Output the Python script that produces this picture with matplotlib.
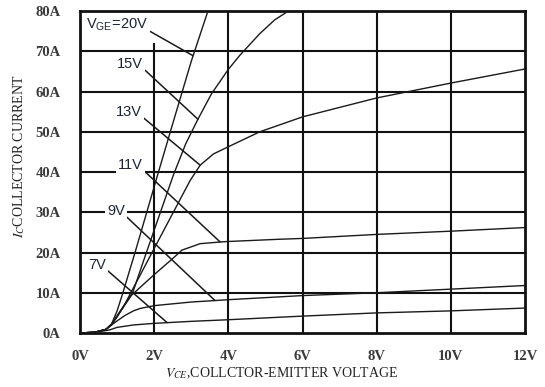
import numpy as np
import matplotlib
matplotlib.use("Agg")
import matplotlib.pyplot as plt

plt.rcParams['mathtext.fontset'] = 'stix'

# Output characteristics, I_C (A) versus V_CE (V), one list pair per gate voltage
v_20 = [0, 0.4, 0.7, 0.85, 1.0, 1.15, 1.5, 2.1, 2.5, 3.0, 3.45]
i_20 = [0, 0.2, 0.9, 2.2, 5.5, 9.8, 20.5, 39.5, 52.0, 67.5, 80.0]

v_15 = [0, 0.4, 0.7, 0.85, 1.05, 1.42, 1.79, 2.52, 2.85, 3.19, 3.55, 4.0, 4.31, 4.85, 5.25, 5.62]
i_15 = [0, 0.2, 0.9, 2.2, 5.0, 10.0, 20.0, 39.3, 47.0, 53.3, 59.5, 65.5, 69.0, 74.4, 77.8, 80.0]

v_13 = [0, 0.4, 0.7, 0.85, 1.0, 1.17, 2.0, 2.97, 3.24, 3.6, 4.05, 4.85, 6.0, 8.0, 10.0, 12.0]
i_13 = [0, 0.2, 0.9, 2.2, 4.0, 6.5, 21.0, 37.9, 41.7, 44.5, 46.5, 50.0, 53.7, 58.4, 62.1, 65.6]

v_11 = [0, 0.4, 0.7, 0.85, 1.1, 1.39, 2.0, 2.5, 2.75, 3.24, 3.9, 5.39, 6.0, 8.0, 10.0, 12.0]
i_11 = [0, 0.2, 0.9, 2.0, 5.5, 9.4, 14.5, 18.5, 20.6, 22.2, 22.7, 23.3, 23.5, 24.5, 25.3, 26.2]

v_9 = [0, 0.4, 0.7, 0.85, 1.0, 1.2, 1.44, 1.62, 2.0, 3.0, 4.04, 6.0, 8.0, 10.0, 12.0]
i_9 = [0, 0.2, 0.9, 2.0, 3.0, 4.3, 5.5, 6.1, 6.8, 7.7, 8.3, 9.3, 10.0, 10.9, 11.8]

v_7 = [0, 0.4, 0.7, 0.81, 1.0, 1.44, 2.0, 3.0, 4.0, 6.0, 8.0, 10.0, 12.0]
i_7 = [0, 0.2, 0.6, 0.8, 1.4, 2.0, 2.4, 2.9, 3.3, 4.2, 5.0, 5.5, 6.2]

x_ticks = [0, 2, 4, 6, 8, 10, 12]
x_labels = ['0V', '2V', '4V', '6V', '8V', '10V', '12V']
y_ticks = [0, 10, 20, 30, 40, 50, 60, 70, 80]
y_labels = ['0A', '10A', '20A', '30A', '40A', '50A', '60A', '70A', '80A']

fig = plt.figure(figsize=(5.45, 3.87), dpi=100)
ax = fig.add_axes([0.1468, 0.1395, 0.8165, 0.832])
ax.set_xlim(0, 12)
ax.set_ylim(0, 80)

# grid drawn by hand: the 2V line stops under the V_GE label
for y in y_ticks[1:-1]:
    ax.axhline(y, color='#111111', lw=1.5, zorder=1)
for x in x_ticks[1:-1]:
    top = 72 if x == 2 else 80
    ax.vlines(x, 0, top, color='#111111', lw=1.5, zorder=1)

for s in ax.spines.values():
    s.set_linewidth(2.0)
    s.set_color('#111111')

curves = [(v_20, i_20), (v_15, i_15), (v_13, i_13), (v_11, i_11), (v_9, i_9), (v_7, i_7)]
for v, i in curves:
    ax.plot(v, i, color='#1a1a1a', lw=1.0, zorder=3)

ax.set_xticks(x_ticks)
ax.set_xticklabels(x_labels)
ax.set_yticks(y_ticks)
ax.set_yticklabels(y_labels)
ax.tick_params(axis='x', length=0, pad=12)
ax.tick_params(axis='y', length=0, pad=14)
for lab in ax.get_xticklabels() + ax.get_yticklabels():
    lab.set_fontfamily('Liberation Serif')
    lab.set_fontweight('bold')
    lab.set_fontsize(10.5)
    lab.set_color('#3a3a3a')

ax.set_xlabel(r'$V_{CE}$,COLLCTOR-EMITTER VOLTAGE', family='Liberation Serif',
              fontsize=10, color='#222222')
ax.set_ylabel(r'$I_C$COLLECTOR CURRENT', family='Liberation Serif',
              fontsize=10, color='#222222')
ax.xaxis.set_label_coords(0.452, -0.1)
ax.yaxis.set_label_coords(-0.12, 0.55)

# gate-voltage labels with leader lines to their curves
labels = [
    (r'V$_{\mathregular{GE}}$=20V', (0.15, 76.5), v_20, i_20, 3.05),
    ('15V', (1.35, 66.8), v_15, i_15, 3.18),
    ('13V', (1.31, 54.9), v_13, i_13, 3.24),
    ('11V', (1.35, 41.7), v_11, i_11, 3.78),
    ('9V', (0.97, 30.3), v_9, i_9, 3.64),
    ('7V', (0.46, 16.9), v_7, i_7, 2.35),
]
for text, pos, v, i, vx in labels:
    iy = np.interp(vx, v, i)
    ha = 'left' if text.startswith('V') else 'center'
    ax.annotate(text, xy=(vx, iy), xytext=pos, ha=ha, va='center',
                family='Liberation Sans', fontsize=10.5, color='#1c2333',
                bbox=dict(fc='white', ec='none', pad=1.5),
                arrowprops=dict(arrowstyle='-', color='#1a1a1a', lw=1.1,
                                relpos=(1.0, 0.2), shrinkA=0, shrinkB=0),
                zorder=4)

fig.savefig('out.png', dpi=100)
